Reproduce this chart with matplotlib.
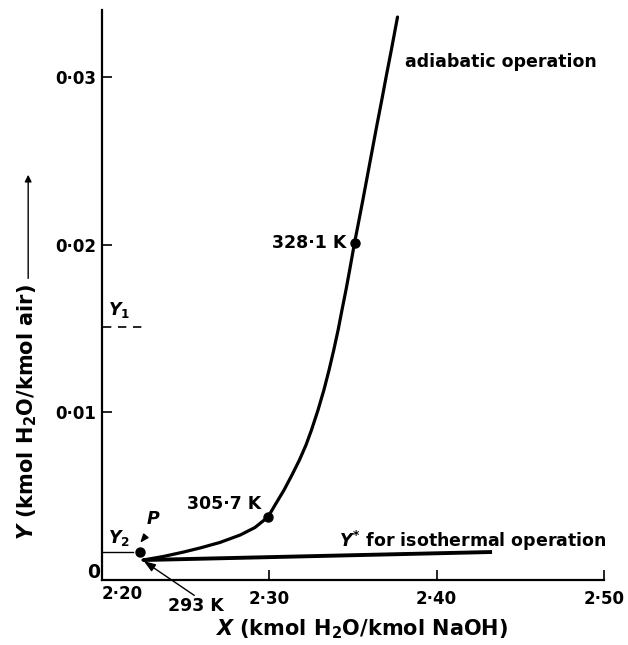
import matplotlib
matplotlib.use('Agg')
import matplotlib.pyplot as plt
from matplotlib.patches import FancyArrowPatch

# ---- data ----
adiabatic_X = [2.2245, 2.2365, 2.2484, 2.2586, 2.2705, 2.2825, 2.2914, 2.2992,
               2.3034, 2.3088, 2.3135, 2.3180, 2.3219, 2.3252, 2.3291, 2.3326,
               2.3357, 2.3385, 2.3411, 2.3434, 2.3458, 2.3480, 2.3509, 2.3530,
               2.3559, 2.3587, 2.3615, 2.3643, 2.3672, 2.3700, 2.3729, 2.3766]
adiabatic_Y = [0.00119, 0.00140, 0.00166, 0.00191, 0.00224, 0.00268, 0.00313, 0.00376,
               0.00447, 0.00537, 0.00626, 0.00716, 0.00805, 0.00895, 0.01014, 0.01133,
               0.01253, 0.01372, 0.01491, 0.01610, 0.01730, 0.01849, 0.02010, 0.02117,
               0.02267, 0.02416, 0.02565, 0.02714, 0.02863, 0.03012, 0.03161, 0.03358]
isothermal_X = [2.2245, 2.4331]
isothermal_Y = [0.00119, 0.00167]
marked_X = [2.2992, 2.3509]
marked_Y = [0.00376, 0.02010]
marked_labels = ["305·7 K", "328·1 K"]
P_X, P_Y = 2.2227, 0.00167
Y1_value = 0.0151
Y2_value = 0.00167
x_ticks = [2.30, 2.40, 2.50]
x_ticklabels = ["2·30", "2·40", "2·50"]
y_ticks = [0.01, 0.02, 0.03]
y_ticklabels = ["0·01", "0·02", "0·03"]

FONT = 'DejaVu Sans'
plt.rcParams['font.family'] = [FONT]
plt.rcParams['font.weight'] = 'bold'
plt.rcParams['mathtext.fontset'] = 'custom'
plt.rcParams['mathtext.rm'] = FONT + ':bold'
plt.rcParams['mathtext.it'] = FONT + ':italic:bold'
plt.rcParams['mathtext.bf'] = FONT + ':bold'

FS = 12.5      # annotations
FT = 12.0      # tick labels
FA = 15.0      # axis labels
W, H = 628, 645
fig = plt.figure(figsize=(W / 100, H / 100), dpi=100)
ax = fig.add_axes([102 / W, 1 - 580 / H, 502 / W, 570 / H])
ax.set_xlim(2.20, 2.50)
ax.set_ylim(0, 0.034)
for s in ['top', 'right']:
    ax.spines[s].set_visible(False)
for s in ['left', 'bottom']:
    ax.spines[s].set_linewidth(1.6)

ax.set_xticks(x_ticks)
ax.set_xticklabels(x_ticklabels)
ax.set_yticks(y_ticks)
ax.set_yticklabels(y_ticklabels)
ax.tick_params(axis='x', direction='in', length=7, width=1.2, pad=7, labelsize=FT)
ax.tick_params(axis='y', direction='in', length=7, width=1.2, pad=4, labelsize=FT)

# curves
ax.plot(adiabatic_X, adiabatic_Y, color='black', lw=2.3, solid_capstyle='round',
        solid_joinstyle='round', clip_on=False)
ax.plot(isothermal_X, isothermal_Y, color='black', lw=2.8, solid_capstyle='butt')
ax.plot(marked_X, marked_Y, 'o', color='black', ms=6.5)
ax.plot([P_X], [P_Y], 'o', color='black', ms=6.5)

# marked temperatures
ax.annotate(marked_labels[0], (marked_X[0], marked_Y[0]), xytext=(-5, 9),
            textcoords='offset points', ha='right', va='center', fontsize=FS)
ax.annotate(marked_labels[1], (marked_X[1], marked_Y[1]), xytext=(-6, 0),
            textcoords='offset points', ha='right', va='center', fontsize=FS)

# Y1 and Y2
ax.plot([2.2008, 2.2274], [Y1_value, Y1_value], color='black', lw=1.2,
        dashes=(5, 4))
ax.plot([2.2008, 2.2185], [Y2_value, Y2_value], color='black', lw=1.0)
ax.text(2.2036, 0.0161, r"$\mathit{Y}_{1}$", fontsize=FS, ha='left', va='center')
ax.text(2.2036, 0.0025, r"$\mathit{Y}_{2}$", fontsize=FS, ha='left', va='center')
ax.text(2.2304, 0.00365, r"$\mathit{P}$", fontsize=FS, ha='center', va='center')
ax.annotate("", xy=(2.2218, 0.0021), xytext=(2.2266, 0.00268),
            arrowprops=dict(arrowstyle='-|>,head_length=0.5,head_width=0.2',
                            color='black', lw=1.0))

# 293 K
ax.annotate("", xy=(2.2236, 0.00122), xytext=(2.2565, -0.00101),
            arrowprops=dict(arrowstyle='-|>,head_length=0.7,head_width=0.25',
                            color='black', lw=1.0), annotation_clip=False)
ax.text(2.2393, -0.00155, "293 K", fontsize=FS, ha='left', va='center', clip_on=False)

# curve labels
ax.text(2.3811, 0.03087, "adiabatic operation", fontsize=FS, ha='left', va='center')
ax.text(2.5015, 0.00235, r"$\mathit{Y}^{*}$ for isothermal operation", fontsize=FS,
        ha='right', va='center')

# origin labels
fig.text(102 / W, 1 - 594 / H, "2·20", fontsize=FT, ha='left', va='center')
fig.text(100 / W, 1 - 572 / H, "0", fontsize=FT + 1.5, ha='right', va='center')

# axis labels
fig.text(362 / W, 1 - 629 / H, r"$\mathit{X}$ (kmol H$_2$O/kmol NaOH)", fontsize=FA,
         ha='center', va='center')
ylab = fig.text(27 / W, 1 - 540 / H, r"$\mathit{Y}$ (kmol H$_2$O/kmol air)", fontsize=FA,
                ha='center', va='bottom', rotation=90)
fig.canvas.draw()
bb = ylab.get_window_extent(fig.canvas.get_renderer())
top = bb.y1 / H
ax_x = bb.x0 / W + (bb.width / W) * 0.55
fig.patches.append(FancyArrowPatch(
    (ax_x, top + 3 / H), (ax_x, 1 - 172 / H), transform=fig.transFigure,
    arrowstyle='-|>,head_length=4,head_width=2', color='black', lw=1.0))

fig.savefig('out.png', dpi=100)
